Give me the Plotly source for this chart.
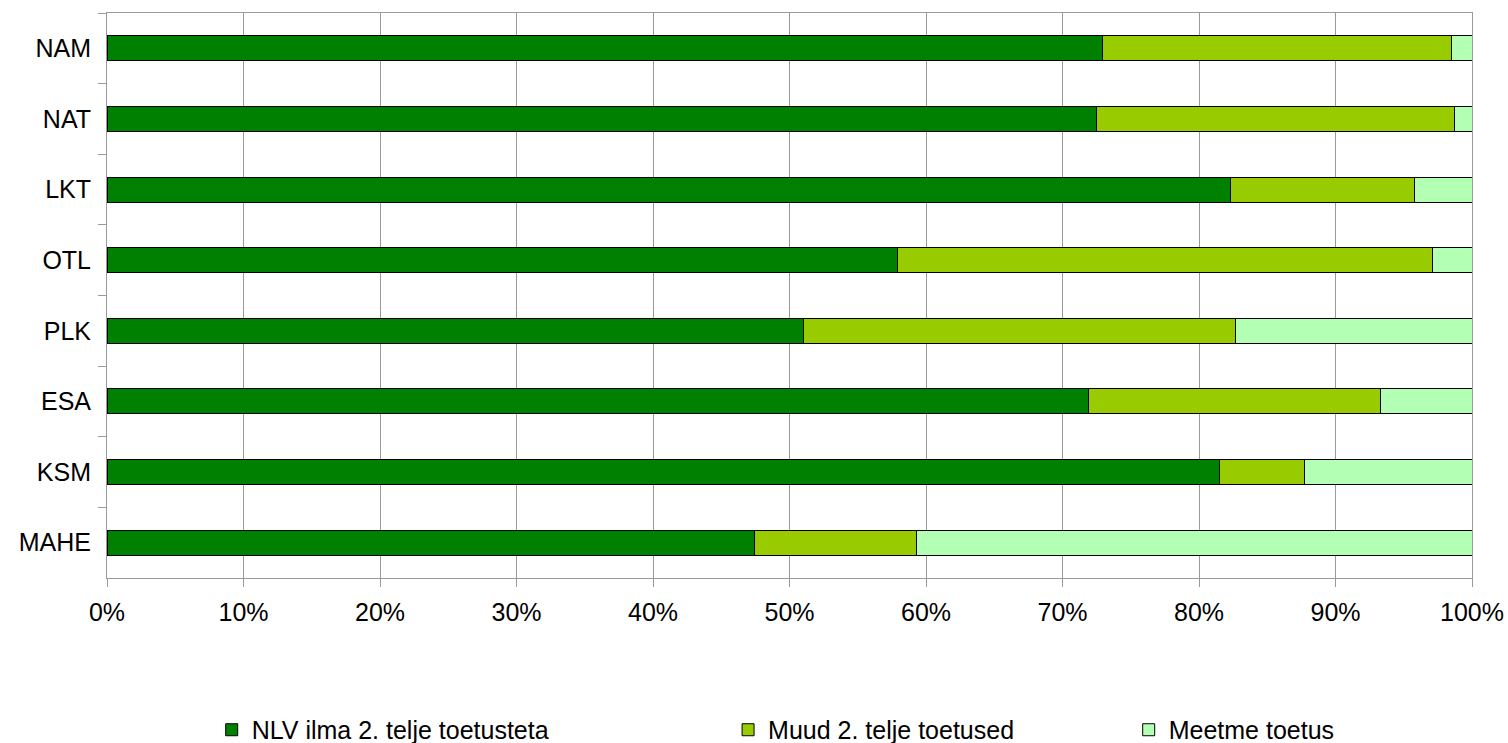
import plotly.graph_objects as go

categories = ["NAM", "NAT", "LKT", "OTL", "PLK", "ESA", "KSM", "MAHE"]
series_names = ["NLV ilma 2. telje toetusteta", "Muud 2. telje toetused", "Meetme toetus"]
nlv = [72.9, 72.5, 82.3, 57.9, 51.0, 71.9, 81.5, 47.4]
muud = [25.6, 26.2, 13.5, 39.2, 31.7, 21.4, 6.2, 11.9]
meede = [1.5, 1.3, 4.2, 2.9, 17.3, 6.7, 12.3, 40.7]
colors = ["#008000", "#99cc00", "#b3ffb3"]
tick_vals = [0, 10, 20, 30, 40, 50, 60, 70, 80, 90, 100]
tick_text = [f"{v}%" for v in tick_vals]

FONT = "Liberation Sans, Arial, sans-serif"

fig = go.Figure()
legend_ids = [None, "legend2", "legend3"]
for name, vals, col, lg in zip(series_names, [nlv, muud, meede], colors, legend_ids):
    kw = {} if lg is None else {"legend": lg}
    fig.add_trace(go.Bar(
        y=categories, x=vals, orientation="h", name=name,
        marker=dict(color=col, line=dict(color="black", width=1)),
        cliponaxis=False, showlegend=True, **kw,
    ))

leg_common = dict(orientation="h", yanchor="middle", xanchor="left", y=-0.269,
                  font=dict(family=FONT, size=25, color="black"),
                  bgcolor="rgba(0,0,0,0)")
fig.update_layout(
    barmode="stack",
    bargap=0.646,
    width=1508, height=743,
    margin=dict(l=107, r=36, t=13, b=165, autoexpand=False),
    plot_bgcolor="white", paper_bgcolor="white",
    font=dict(family=FONT, size=25, color="black"),
    showlegend=True,
    legend=dict(x=0.0767, **leg_common),
    legend2=dict(x=0.455, **leg_common),
    legend3=dict(x=0.7485, **leg_common),
    xaxis=dict(range=[0, 100], tickvals=tick_vals, ticktext=tick_text,
               showgrid=True, gridcolor="#9a9a9a", gridwidth=1,
               showline=True, linecolor="#9a9a9a", linewidth=1, mirror=True,
               ticks="outside", ticklen=8, tickcolor="#9a9a9a", automargin=False,
               ticklabeloverflow="allow", ticklabelstandoff=4, layer="below traces",
               zeroline=False, tickfont=dict(family=FONT, size=25, color="black")),
    yaxis=dict(autorange="reversed", type="category", tickson="boundaries",
               showgrid=False, showline=True, linecolor="#9a9a9a", linewidth=1,
               mirror=True, layer="below traces",
               ticks="outside", ticklen=8, tickcolor="#9a9a9a", automargin=False,
               ticklabelstandoff=10,
               tickfont=dict(family=FONT, size=25, color="black")),
)

# remove the browser's default 8px body margin so the figure fills the window
fig.write_html("out.html", config={"displayModeBar": False},
               post_script="document.body.style.margin='0px';document.body.style.overflow='hidden';")
